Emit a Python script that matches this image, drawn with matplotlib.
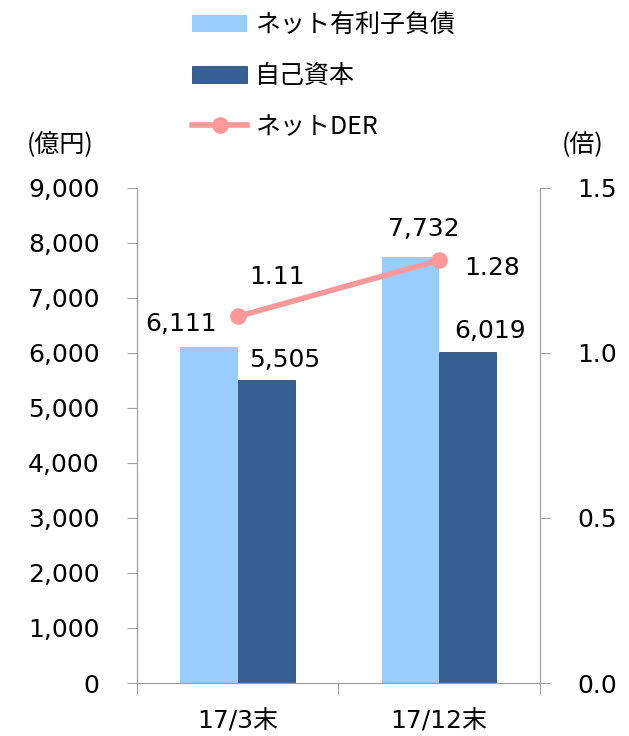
import numpy as np
import matplotlib
matplotlib.use('Agg')
import matplotlib.pyplot as plt
from matplotlib.ticker import FuncFormatter

plt.rcParams['font.family'] = ['DejaVu Sans', 'Noto Sans CJK JP']

# data
categories = ['17/3末', '17/12末']
net_debt = [6111, 7732]
equity = [5505, 6019]
net_der = [1.11, 1.28]
series_names = ['ネット有利子負債', '自己資本', 'ネットDER']

light = '#99ccff'
dark = '#376092'
pink = '#ff9999'
grey = '#a0a0a0'
fs = 18

fig = plt.figure(figsize=(6.29, 7.36), dpi=100)
ax = fig.add_axes([0.218, 0.072, 0.640, 0.673])
ax2 = ax.twinx()

x = np.arange(len(categories))
w = 0.285
b1 = ax.bar(x - w / 2, net_debt, w, color=light, label=series_names[0])
b2 = ax.bar(x + w / 2, equity, w, color=dark, edgecolor='#2c4d75', linewidth=0.6,
            label=series_names[1])
ln, = ax2.plot(x, net_der, color=pink, lw=4, marker='o', ms=11, label=series_names[2])

ax.set_xlim(-0.5, 1.5)
ax.set_ylim(0, 9000)
ax2.set_ylim(0, 1.5)
ax.set_yticks(np.arange(0, 9001, 1000))
ax2.set_yticks([0, 0.5, 1.0, 1.5])
ax.yaxis.set_major_formatter(FuncFormatter(lambda v, p: f'{v:,.0f}'))
ax2.yaxis.set_major_formatter(FuncFormatter(lambda v, p: f'{v:.1f}'))

# category boundaries get tick marks, labels sit at centres
ax.set_xticks([-0.5, 0.5, 1.5])
ax.set_xticklabels([])
ax.set_xticks(x, minor=True)
ax.set_xticklabels(categories, minor=True, fontsize=fs)
ax.tick_params(axis='x', which='minor', length=0, pad=19)
ax.tick_params(axis='x', which='major', length=8, color=grey, direction='out')
ax.tick_params(axis='y', length=7, color=grey, labelsize=fs, pad=20)
ax2.tick_params(axis='y', length=7, color=grey, labelsize=fs, pad=20)

for a in (ax, ax2):
    a.spines['top'].set_visible(False)
    for s in ('left', 'right', 'bottom'):
        a.spines[s].set_color(grey)
ax2.set_zorder(ax.get_zorder() + 1)
ax2.patch.set_visible(False)

# value labels
off_debt = [(-20, 8), (10, 12)]
off_eq = [(13, 6), (16, 6)]
for i in range(len(categories)):
    ax.annotate(f'{net_debt[i]:,}', (x[i] - w / 2, net_debt[i]), textcoords='offset points',
                xytext=off_debt[i], ha='center', va='bottom', fontsize=fs)
    ax.annotate(f'{equity[i]:,}', (x[i] + w / 2, equity[i]), textcoords='offset points',
                xytext=off_eq[i], ha='center', va='bottom', fontsize=fs)
off_der = [(28, 20), (38, -14)]
for i in range(len(categories)):
    ax2.annotate(f'{net_der[i]:.2f}', (x[i], net_der[i]), textcoords='offset points',
                 xytext=off_der[i], ha='center', va='bottom', fontsize=fs)

fig.text(0.095, 0.803, '(億円)', fontsize=fs, ha='center', va='center',
         family=['Noto Sans CJK JP', 'DejaVu Sans'])
fig.text(0.927, 0.803, '(倍)', fontsize=fs, ha='center', va='center',
         family=['Noto Sans CJK JP', 'DejaVu Sans'])

leg = fig.legend(handles=[b1, b2, ln], loc='upper left', bbox_to_anchor=(0.27, 1.014),
                 frameon=False, labelspacing=1.0, handlelength=2.2,
                 handletextpad=0.3, prop={'family': ['Noto Sans CJK JP', 'DejaVu Sans'], 'size': fs})

fig.savefig('out.png', dpi=100)
